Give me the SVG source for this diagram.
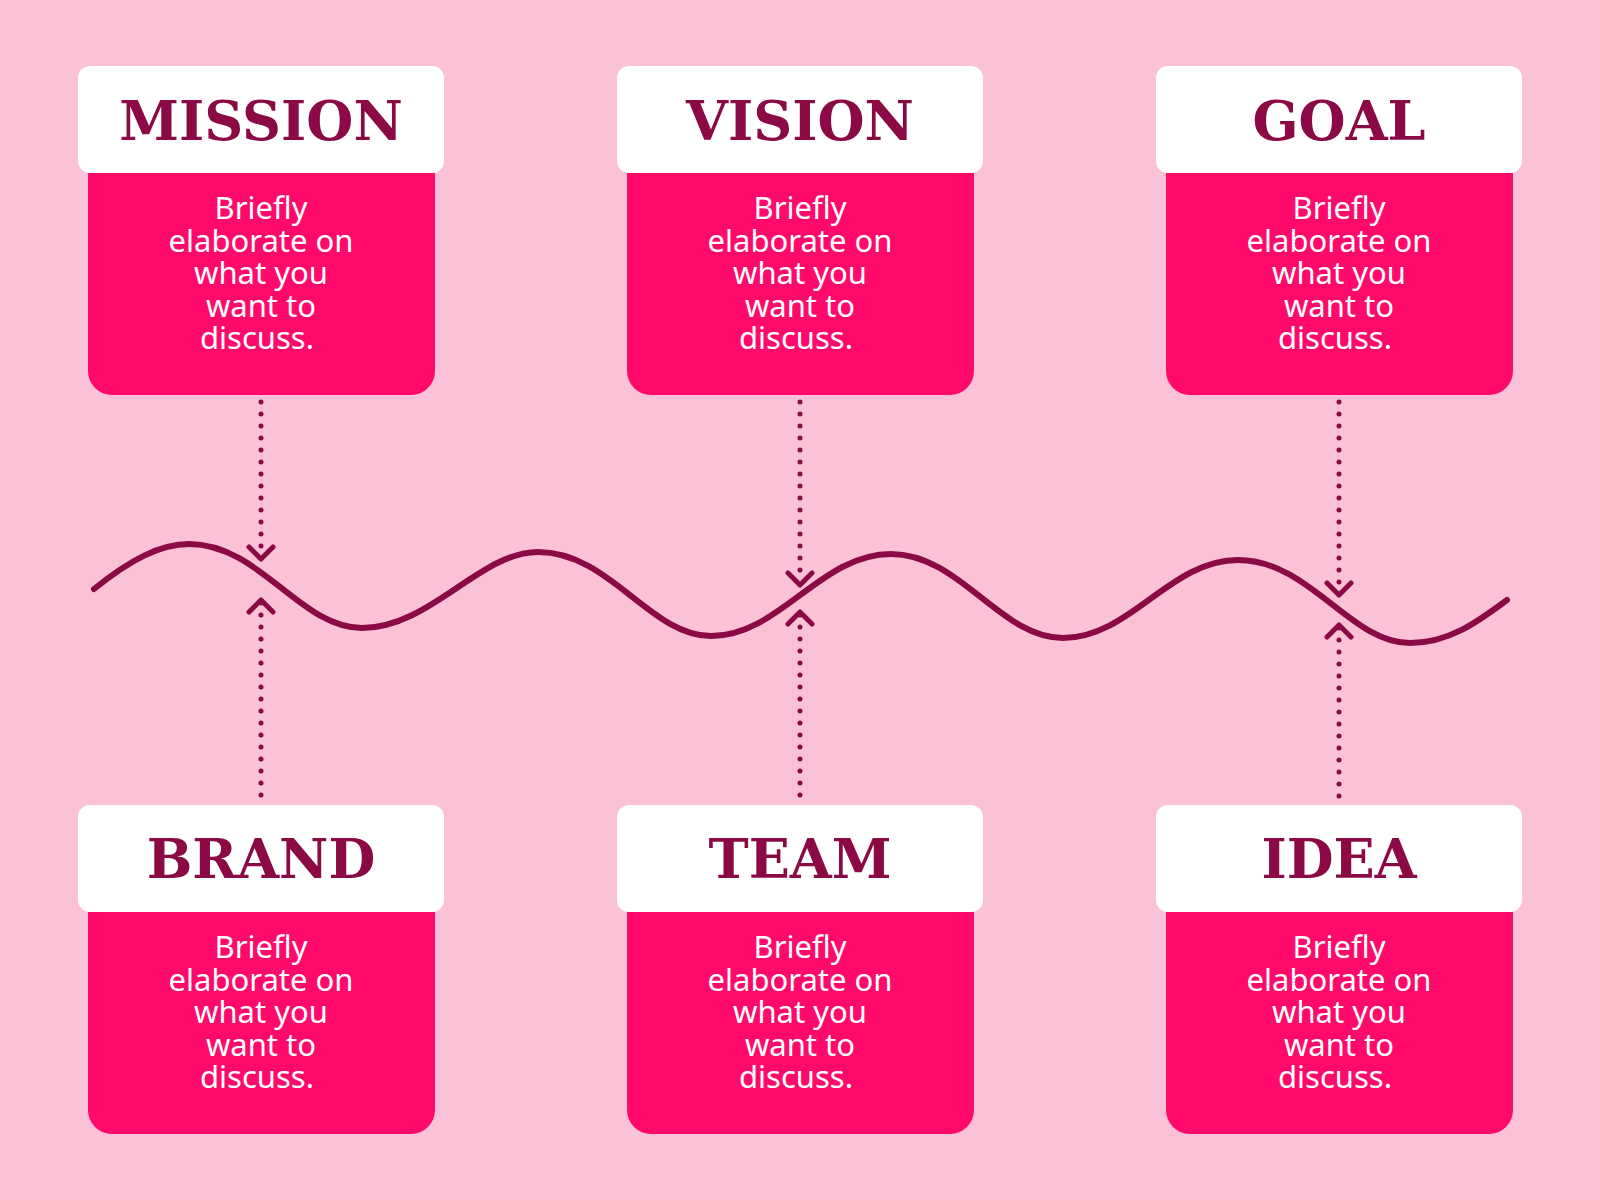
<svg xmlns="http://www.w3.org/2000/svg" width="1600" height="1200" viewBox="0 0 1600 1200">
<defs>
<style>
.hd{fill:#fff}
.bd{fill:#ff0a6a}
.t{font-family:"DejaVu Serif",serif;font-weight:bold;font-size:54px;fill:#8b0a45;text-anchor:middle}
.b{font-family:"Noto Sans","Liberation Sans",sans-serif;font-size:31px;fill:#fff;text-anchor:middle}
.dot{stroke:#8b0a45;stroke-width:5;stroke-linecap:round;stroke-dasharray:0 12;fill:none}
.ah{stroke:#8b0a45;stroke-width:5;stroke-linecap:round;stroke-linejoin:round;fill:none}
</style>
<g id="card">
<rect class="bd" x="-173" y="0" width="347" height="222" rx="24"/>
<rect class="bd" x="-173" y="0" width="347" height="40"/>
<rect class="hd" x="-183" y="-107" width="366" height="107" rx="12"/>
<text class="b" y="46">Briefly</text>
<text class="b" y="79">elaborate on</text>
<text class="b" y="111">what you</text>
<text class="b" y="144">want to</text>
<text class="b" x="-4" y="176">discuss.</text>
</g>
</defs>
<rect width="1600" height="1200" fill="#fbc1d6"/>
<g id="connectors">
<path d="M94,589 C130,560 160,544 189,544 C260,544 300,628 362,628 C430,628 480,552 538,552 C610,552 650,636 711,636 C780,636 820,554 891,554 C960,554 1000,638 1063,638 C1130,638 1170,560 1238,560 C1310,560 1350,643 1410,643 C1450,643 1480,620 1507,600" stroke="#8b0a45" stroke-width="6" fill="none" stroke-linecap="round"/>
<path class="dot" d="M261,402 V556 M800,402 V582 M1339,402 V592"/>
<path class="ah" d="M249,547 L261,559 L273,547 M788,573 L800,585 L812,573 M1327,583 L1339,595 L1351,583"/>
<path class="dot" d="M261,603 V801 M800,615 V801 M1339,628 V801"/>
<path class="ah" d="M249,612 L261,600 L273,612 M788,624 L800,612 L812,624 M1327,637 L1339,625 L1351,637"/>
</g>
<g id="mission"><use href="#card" x="261" y="173"/><text class="t" x="261" y="140">MISSION</text></g>
<g id="vision"><use href="#card" x="800" y="173"/><text class="t" x="800" y="140">VISION</text></g>
<g id="goal"><use href="#card" x="1339" y="173"/><text class="t" x="1339" y="140">GOAL</text></g>
<g id="brand"><use href="#card" x="261" y="912"/><text class="t" x="261" y="878">BRAND</text></g>
<g id="team"><use href="#card" x="800" y="912"/><text class="t" x="800" y="878">TEAM</text></g>
<g id="idea"><use href="#card" x="1339" y="912"/><text class="t" x="1339" y="878">IDEA</text></g>
</svg>
